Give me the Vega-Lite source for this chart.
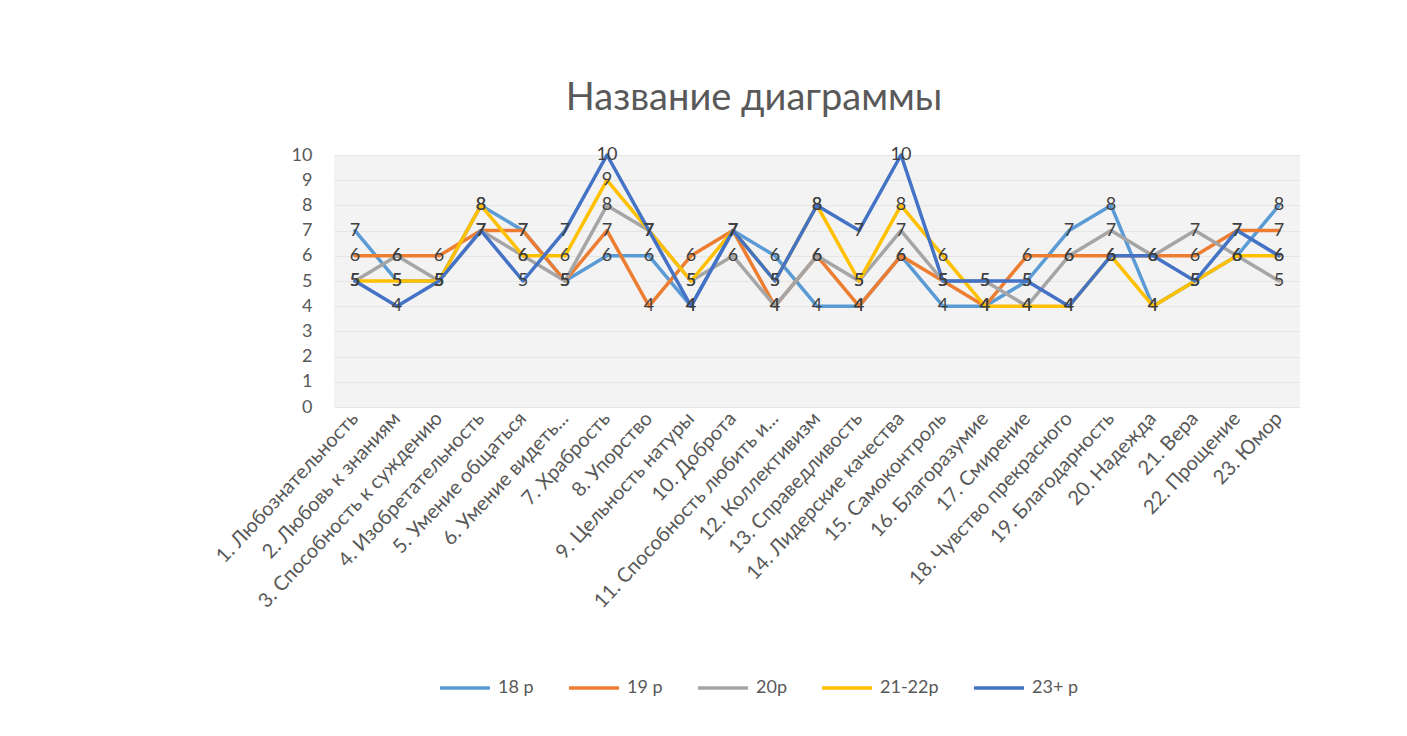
{
  "$schema": "https://vega.github.io/schema/vega-lite/v6.json",
  "autosize": "none",
  "width": 966,
  "height": 252,
  "padding": {"left": 334, "top": 155, "right": 107, "bottom": 329},
  "background": "#ffffff",
  "config": {
    "font": "Lato",
    "view": {"fill": "#f3f3f3", "stroke": null}
  },
  "title": {
    "text": "Название диаграммы",
    "fontSize": 38,
    "font": "Lato",
    "fontWeight": "normal",
    "color": "#595959",
    "anchor": "middle",
    "dx": -63,
    "offset": 28
  },
  "data": {
    "values": [
      {"cat": "1. Любознательность", "s": "18 р", "v": 7}, {"cat": "1. Любознательность", "s": "19 р", "v": 6}, {"cat": "1. Любознательность", "s": "20р", "v": 5}, {"cat": "1. Любознательность", "s": "21-22р", "v": 5}, {"cat": "1. Любознательность", "s": "23+ р", "v": 5},
      {"cat": "2. Любовь к знаниям", "s": "18 р", "v": 5}, {"cat": "2. Любовь к знаниям", "s": "19 р", "v": 6}, {"cat": "2. Любовь к знаниям", "s": "20р", "v": 6}, {"cat": "2. Любовь к знаниям", "s": "21-22р", "v": 5}, {"cat": "2. Любовь к знаниям", "s": "23+ р", "v": 4},
      {"cat": "3. Способность к суждению", "s": "18 р", "v": 5}, {"cat": "3. Способность к суждению", "s": "19 р", "v": 6}, {"cat": "3. Способность к суждению", "s": "20р", "v": 5}, {"cat": "3. Способность к суждению", "s": "21-22р", "v": 5}, {"cat": "3. Способность к суждению", "s": "23+ р", "v": 5},
      {"cat": "4. Изобретательность", "s": "18 р", "v": 8}, {"cat": "4. Изобретательность", "s": "19 р", "v": 7}, {"cat": "4. Изобретательность", "s": "20р", "v": 7}, {"cat": "4. Изобретательность", "s": "21-22р", "v": 8}, {"cat": "4. Изобретательность", "s": "23+ р", "v": 7},
      {"cat": "5. Умение общаться", "s": "18 р", "v": 7}, {"cat": "5. Умение общаться", "s": "19 р", "v": 7}, {"cat": "5. Умение общаться", "s": "20р", "v": 6}, {"cat": "5. Умение общаться", "s": "21-22р", "v": 6}, {"cat": "5. Умение общаться", "s": "23+ р", "v": 5},
      {"cat": "6. Умение видеть...", "s": "18 р", "v": 5}, {"cat": "6. Умение видеть...", "s": "19 р", "v": 5}, {"cat": "6. Умение видеть...", "s": "20р", "v": 5}, {"cat": "6. Умение видеть...", "s": "21-22р", "v": 6}, {"cat": "6. Умение видеть...", "s": "23+ р", "v": 7},
      {"cat": "7. Храбрость", "s": "18 р", "v": 6}, {"cat": "7. Храбрость", "s": "19 р", "v": 7}, {"cat": "7. Храбрость", "s": "20р", "v": 8}, {"cat": "7. Храбрость", "s": "21-22р", "v": 9}, {"cat": "7. Храбрость", "s": "23+ р", "v": 10},
      {"cat": "8. Упорство", "s": "18 р", "v": 6}, {"cat": "8. Упорство", "s": "19 р", "v": 4}, {"cat": "8. Упорство", "s": "20р", "v": 7}, {"cat": "8. Упорство", "s": "21-22р", "v": 7}, {"cat": "8. Упорство", "s": "23+ р", "v": 7},
      {"cat": "9. Цельность натуры", "s": "18 р", "v": 4}, {"cat": "9. Цельность натуры", "s": "19 р", "v": 6}, {"cat": "9. Цельность натуры", "s": "20р", "v": 5}, {"cat": "9. Цельность натуры", "s": "21-22р", "v": 5}, {"cat": "9. Цельность натуры", "s": "23+ р", "v": 4},
      {"cat": "10. Доброта", "s": "18 р", "v": 7}, {"cat": "10. Доброта", "s": "19 р", "v": 7}, {"cat": "10. Доброта", "s": "20р", "v": 6}, {"cat": "10. Доброта", "s": "21-22р", "v": 7}, {"cat": "10. Доброта", "s": "23+ р", "v": 7},
      {"cat": "11. Способность любить и...", "s": "18 р", "v": 6}, {"cat": "11. Способность любить и...", "s": "19 р", "v": 4}, {"cat": "11. Способность любить и...", "s": "20р", "v": 4}, {"cat": "11. Способность любить и...", "s": "21-22р", "v": 5}, {"cat": "11. Способность любить и...", "s": "23+ р", "v": 5},
      {"cat": "12. Коллективизм", "s": "18 р", "v": 4}, {"cat": "12. Коллективизм", "s": "19 р", "v": 6}, {"cat": "12. Коллективизм", "s": "20р", "v": 6}, {"cat": "12. Коллективизм", "s": "21-22р", "v": 8}, {"cat": "12. Коллективизм", "s": "23+ р", "v": 8},
      {"cat": "13. Справедливость", "s": "18 р", "v": 4}, {"cat": "13. Справедливость", "s": "19 р", "v": 4}, {"cat": "13. Справедливость", "s": "20р", "v": 5}, {"cat": "13. Справедливость", "s": "21-22р", "v": 5}, {"cat": "13. Справедливость", "s": "23+ р", "v": 7},
      {"cat": "14. Лидерские качества", "s": "18 р", "v": 6}, {"cat": "14. Лидерские качества", "s": "19 р", "v": 6}, {"cat": "14. Лидерские качества", "s": "20р", "v": 7}, {"cat": "14. Лидерские качества", "s": "21-22р", "v": 8}, {"cat": "14. Лидерские качества", "s": "23+ р", "v": 10},
      {"cat": "15. Самоконтроль", "s": "18 р", "v": 4}, {"cat": "15. Самоконтроль", "s": "19 р", "v": 5}, {"cat": "15. Самоконтроль", "s": "20р", "v": 5}, {"cat": "15. Самоконтроль", "s": "21-22р", "v": 6}, {"cat": "15. Самоконтроль", "s": "23+ р", "v": 5},
      {"cat": "16. Благоразумие", "s": "18 р", "v": 4}, {"cat": "16. Благоразумие", "s": "19 р", "v": 4}, {"cat": "16. Благоразумие", "s": "20р", "v": 5}, {"cat": "16. Благоразумие", "s": "21-22р", "v": 4}, {"cat": "16. Благоразумие", "s": "23+ р", "v": 5},
      {"cat": "17. Смирение", "s": "18 р", "v": 5}, {"cat": "17. Смирение", "s": "19 р", "v": 6}, {"cat": "17. Смирение", "s": "20р", "v": 4}, {"cat": "17. Смирение", "s": "21-22р", "v": 4}, {"cat": "17. Смирение", "s": "23+ р", "v": 5},
      {"cat": "18. Чувство прекрасного", "s": "18 р", "v": 7}, {"cat": "18. Чувство прекрасного", "s": "19 р", "v": 6}, {"cat": "18. Чувство прекрасного", "s": "20р", "v": 6}, {"cat": "18. Чувство прекрасного", "s": "21-22р", "v": 4}, {"cat": "18. Чувство прекрасного", "s": "23+ р", "v": 4},
      {"cat": "19. Благодарность", "s": "18 р", "v": 8}, {"cat": "19. Благодарность", "s": "19 р", "v": 6}, {"cat": "19. Благодарность", "s": "20р", "v": 7}, {"cat": "19. Благодарность", "s": "21-22р", "v": 6}, {"cat": "19. Благодарность", "s": "23+ р", "v": 6},
      {"cat": "20. Надежда", "s": "18 р", "v": 4}, {"cat": "20. Надежда", "s": "19 р", "v": 6}, {"cat": "20. Надежда", "s": "20р", "v": 6}, {"cat": "20. Надежда", "s": "21-22р", "v": 4}, {"cat": "20. Надежда", "s": "23+ р", "v": 6},
      {"cat": "21. Вера", "s": "18 р", "v": 5}, {"cat": "21. Вера", "s": "19 р", "v": 6}, {"cat": "21. Вера", "s": "20р", "v": 7}, {"cat": "21. Вера", "s": "21-22р", "v": 5}, {"cat": "21. Вера", "s": "23+ р", "v": 5},
      {"cat": "22. Прощение", "s": "18 р", "v": 6}, {"cat": "22. Прощение", "s": "19 р", "v": 7}, {"cat": "22. Прощение", "s": "20р", "v": 6}, {"cat": "22. Прощение", "s": "21-22р", "v": 6}, {"cat": "22. Прощение", "s": "23+ р", "v": 7},
      {"cat": "23. Юмор", "s": "18 р", "v": 8}, {"cat": "23. Юмор", "s": "19 р", "v": 7}, {"cat": "23. Юмор", "s": "20р", "v": 5}, {"cat": "23. Юмор", "s": "21-22р", "v": 6}, {"cat": "23. Юмор", "s": "23+ р", "v": 6}
    ]
  },
  "encoding": {
    "x": {
      "field": "cat",
      "type": "nominal",
      "sort": null,
      "scale": {"type": "band", "paddingInner": 0, "paddingOuter": 0},
      "axis": {
        "title": null,
        "labelAngle": -47,
        "labelAlign": "right",
        "labelBaseline": "middle",
        "labelFontSize": 20,
        "labelColor": "#595959",
        "labelFont": "Lato",
        "labelPadding": 8,
        "labelLimit": 400,
        "ticks": false,
        "domain": false,
        "grid": false
      }
    },
    "y": {
      "field": "v",
      "type": "quantitative",
      "scale": {"domain": [0, 10], "nice": false},
      "axis": {
        "title": null,
        "values": [0, 1, 2, 3, 4, 5, 6, 7, 8, 9, 10],
        "labelFontSize": 18,
        "labelColor": "#595959",
        "labelFont": "Lato",
        "labelPadding": 22,
        "ticks": false,
        "domain": false,
        "grid": true,
        "gridColor": "#e6e6e6",
        "gridWidth": 1
      }
    }
  },
  "layer": [
    {
      "mark": {"type": "line", "strokeWidth": 3.5, "strokeCap": "round", "strokeJoin": "round"},
      "encoding": {
        "color": {
          "field": "s",
          "type": "nominal",
          "sort": ["18 р", "19 р", "20р", "21-22р", "23+ р"],
          "scale": {
            "domain": ["18 р", "19 р", "20р", "21-22р", "23+ р"],
            "range": ["#5B9BD5", "#ED7D31", "#A5A5A5", "#FFC000", "#4472C4"]
          },
          "legend": {
            "title": null,
            "orient": "none",
            "direction": "horizontal",
            "legendX": 104,
            "legendY": 506,
            "symbolType": "stroke",
            "symbolSize": 2500,
            "symbolStrokeWidth": 3.5,
            "labelFontSize": 18,
            "labelColor": "#595959",
            "labelFont": "Lato",
            "columnPadding": 28,
            "labelOffset": 6
          }
        }
      }
    },
    {
      "mark": {"type": "text", "fontSize": 18, "color": "#404040", "font": "Lato", "align": "center", "baseline": "middle"},
      "encoding": {
        "text": {"field": "v", "type": "quantitative"},
        "detail": {"field": "s", "type": "nominal"}
      }
    }
  ]
}
